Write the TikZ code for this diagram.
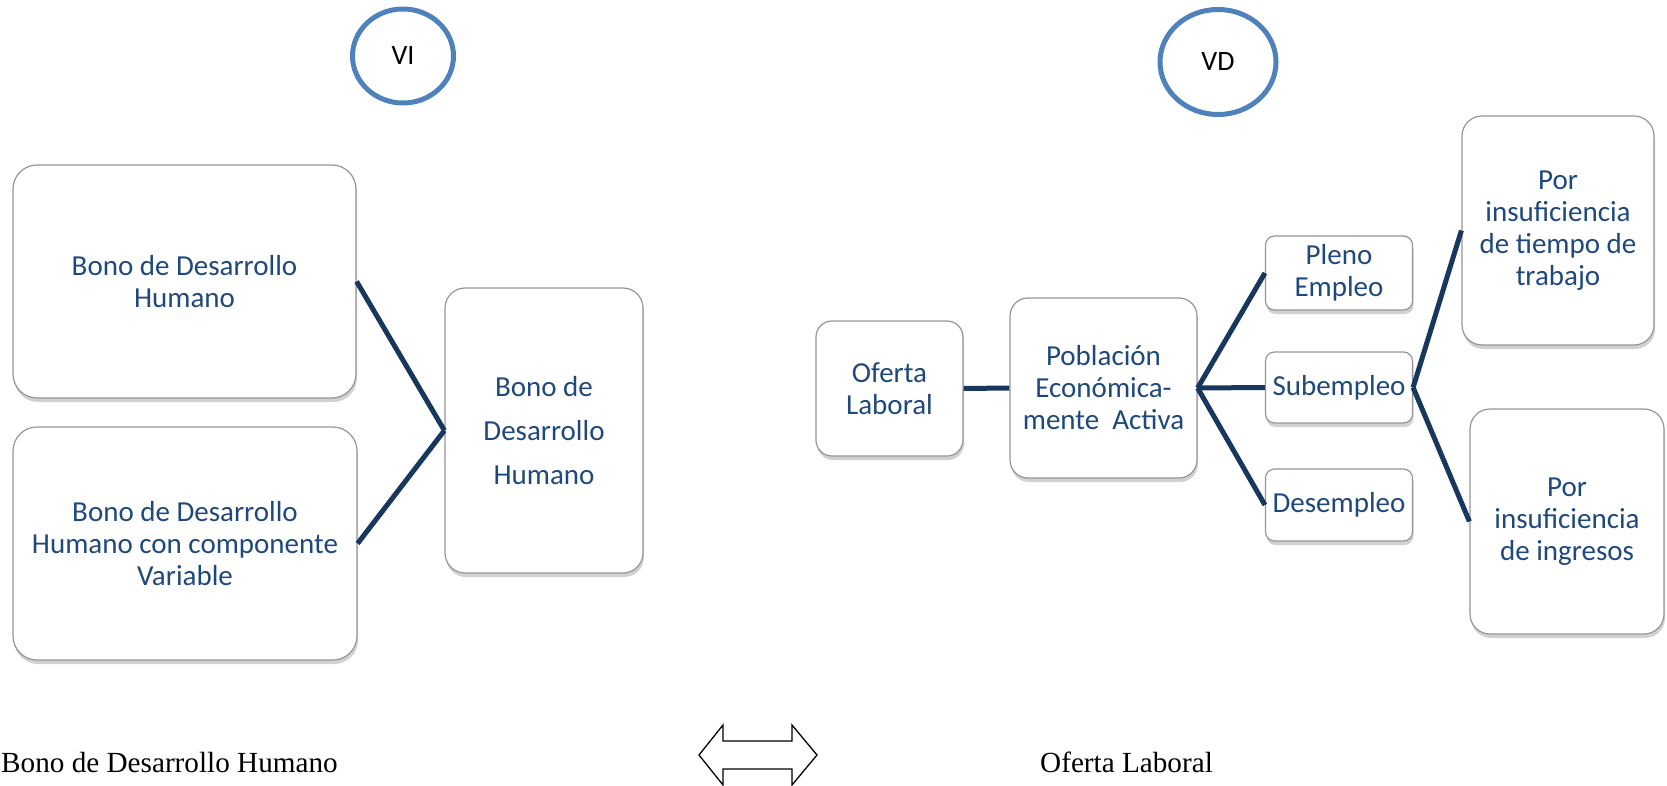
\documentclass[tikz,border=0pt]{standalone}
\usepackage{fontspec}
\setmainfont{Carlito}
\newfontfamily\serifrm{Liberation Serif}
\usetikzlibrary{shapes.geometric,shadows}
\definecolor{txtblue}{RGB}{31,73,125}
\definecolor{linkblue}{RGB}{23,55,94}
\definecolor{ringblue}{RGB}{79,129,189}
\definecolor{boxgray}{RGB}{150,150,150}
\begin{document}
\begin{tikzpicture}[x=1pt,y=-1pt,
    box/.style={draw=boxgray,line width=1.2pt,fill=white,rounded corners=#1,inner sep=0pt,
        align=center,text=txtblue,font=\fontsize{29}{32}\selectfont,
        drop shadow={shadow xshift=1pt,shadow yshift=-4pt,opacity=0.3,fill=black!60}},
    box/.default=10pt,
    ring/.style={ellipse,draw=ringblue,line width=5pt,inner sep=0pt,font=\fontsize{28}{30}\selectfont},
    link/.style={draw=linkblue,line width=5pt},
    foot/.style={anchor=base west,inner sep=0pt,font=\serifrm\fontsize{29.2}{30}\selectfont}]
    \useasboundingbox (0,0) rectangle (1667,786);
    \node[ring,minimum width=101pt,minimum height=94pt] (vi) at (403,56) {VI};
    \node[ring,minimum width=116pt,minimum height=105pt] (vd) at (1218,62) {VD};
    \node[box=24pt,minimum width=343pt,minimum height=233pt] (bdhA) at (184.5,281.5) {Bono de Desarrollo\\Humano};
    \node[box=24pt,minimum width=344pt,minimum height=233pt] (bdhB) at (185,543.5) {Bono de Desarrollo\\Humano con componente\\Variable};
    \node[box=20pt,minimum width=198pt,minimum height=285pt,font=\fontsize{29}{44}\selectfont] (bdh) at (544,430.5) {Bono de\\Desarrollo\\Humano};
    \node[box=16pt,minimum width=147pt,minimum height=135pt] (oferta) at (889.5,388.5) {Oferta\\Laboral};
    \node[box=18pt,minimum width=187pt,minimum height=180pt] (pea) at (1103.5,388) {Población\\Económica-\\mente\ \ Activa};
    \node[box=9pt,minimum width=147pt,minimum height=74pt] (pleno) at (1339,273) {Pleno\\Empleo};
    \node[box=9pt,minimum width=147pt,minimum height=71pt] (sub) at (1339,387.5) {Subempleo};
    \node[box=9pt,minimum width=147pt,minimum height=72pt] (desemp) at (1339,505) {Desempleo};
    \node[box=20pt,minimum width=192pt,minimum height=229pt] (tiempo) at (1558,230.5) {Por\\insuficiencia\\de tiempo de\\trabajo};
    \node[box=20pt,minimum width=194pt,minimum height=225pt] (ingresos) at (1567,521.5) {Por\\insuficiencia\\de ingresos};
    \draw[link] (bdhA.east) -- (bdh.west);
    \draw[link] (bdhB.east) -- (bdh.west);
    \draw[link] (oferta.east) -- (pea.west);
    \draw[link] (pea.east) -- (pleno.west);
    \draw[link] (pea.east) -- (sub.west);
    \draw[link] (pea.east) -- (desemp.west);
    \draw[link] (sub.east) -- (tiempo.west);
    \draw[link] (sub.east) -- (ingresos.west);
    \node[foot] (vilabel) at (1,772) {Bono de Desarrollo Humano};
    \node[foot] (vdlabel) at (1040,772) {Oferta Laboral};
    \draw[line width=1.3pt,line join=miter] (699,755) -- (723,725) -- (723,741) -- (792,741) -- (792,725) -- (817,755)
        -- (792,785) -- (792,769) -- (723,769) -- (723,785) -- cycle;
\end{tikzpicture}
\end{document}
